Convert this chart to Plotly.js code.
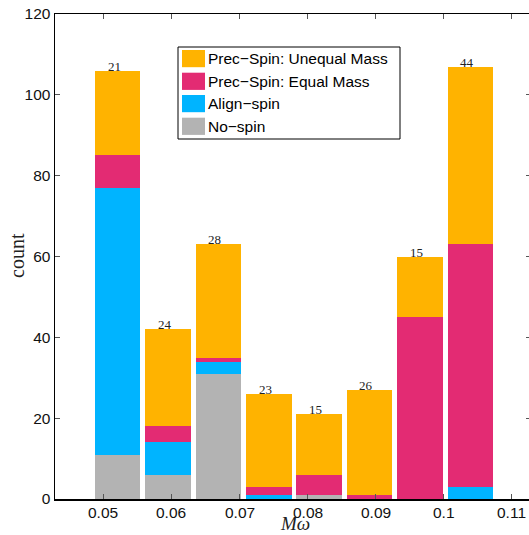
<!DOCTYPE html>
<html>
<head>
<meta charset="utf-8">
<script src="https://cdn.plot.ly/plotly-3.0.1.min.js"></script>
<style>
html, body { margin: 0; padding: 0; overflow: hidden; background: #fff; }
#chart { width: 533px; height: 535px; }
</style>
</head>
<body>
<div id="chart"></div>
<script>
// Bin centres (Mω)
const binCenters = [0.0521, 0.0595, 0.0669, 0.0743, 0.0817, 0.0891, 0.0965, 0.1039];
// Series counts (stacked bottom -> top)
const noSpin      = [11, 6, 31, 0, 1, 0, 0, 0];
const alignSpin   = [66, 8, 3, 1, 0, 0, 0, 3];
const equalMass   = [8, 4, 1, 2, 5, 1, 45, 60];
const unequalMass = [21, 24, 28, 23, 15, 26, 15, 44];
const seriesNames = ["No\u2212spin", "Align\u2212spin", "Prec\u2212Spin: Equal Mass", "Prec\u2212Spin: Unequal Mass"];
const seriesColors = ["#B3B3B3", "#00B4FF", "#E32B73", "#FFB300"];
const xTickVals = [0.05, 0.06, 0.07, 0.08, 0.09, 0.10, 0.11];
const xTickText = ["0.05", "0.06", "0.07", "0.08", "0.09", "0.1", "0.11"];
const yTickVals = [0, 20, 40, 60, 80, 100, 120];

const series = [noSpin, alignSpin, equalMass, unequalMass];
const barWidth = 0.0067;

const traces = series.map((vals, i) => ({
  type: 'bar',
  x: binCenters,
  y: vals,
  width: barWidth,
  name: seriesNames[i],
  marker: { color: seriesColors[i], line: { width: 0 } },
  showlegend: false,
  hoverinfo: 'skip'
}));

// Plot area in pixels
const L = 55, R = 531, T = 14, B = 499;
const px = x => (x - L) / (R - L);
const py = y => (B - y) / (B - T);

const annotations = [];
// Count labels on top of each stack (unequal-mass counts)
binCenters.forEach((x, i) => {
  const total = noSpin[i] + alignSpin[i] + equalMass[i] + unequalMass[i];
  annotations.push({
    x: x, y: total, xref: 'x', yref: 'y',
    text: String(unequalMass[i]),
    showarrow: false, xanchor: 'center', yanchor: 'bottom',
    xshift: -3.5, yshift: -5,
    font: { family: 'Liberation Serif, serif', size: 13, color: '#222' }
  });
});

// X tick labels (placed as text at each tick value)
xTickVals.forEach((v, i) => {
  annotations.push({
    x: v, xref: 'x', yref: 'paper', y: py(512.5),
    text: xTickText[i], showarrow: false,
    xanchor: 'center', yanchor: 'middle', borderpad: 0,
    font: { family: 'Liberation Sans, Arial, sans-serif', size: 15.5, color: '#111' }
  });
});

// Axis titles
annotations.push({
  xref: 'paper', yref: 'paper', x: px(17), y: py(256),
  text: 'count', textangle: -90, showarrow: false,
  xanchor: 'center', yanchor: 'middle',
  font: { family: 'Liberation Serif, serif', size: 20, color: '#222' }
});
annotations.push({
  xref: 'paper', yref: 'paper', x: px(295), y: py(534.5),
  text: '<i>M\u03c9</i>', showarrow: false,
  xanchor: 'center', yanchor: 'bottom', borderpad: 0,
  font: { family: 'Liberation Serif, serif', size: 19, color: '#222' }
});

// Manual legend (top to bottom: reverse stacking order)
const shapes = [];
shapes.push({
  type: 'rect', xref: 'paper', yref: 'paper',
  x0: px(178), x1: px(400), y0: py(47), y1: py(139),
  line: { color: '#000', width: 1 }, fillcolor: '#fff', layer: 'above'
});
const rowCenters = [58.6, 81.3, 103.6, 126.3];
for (let r = 0; r < 4; r++) {
  const si = 3 - r;
  const cy = rowCenters[r];
  shapes.push({
    type: 'rect', xref: 'paper', yref: 'paper',
    x0: px(182), x1: px(205), y0: py(cy - 8.6), y1: py(cy + 8.6),
    line: { width: 0 }, fillcolor: seriesColors[si], layer: 'above'
  });
  annotations.push({
    xref: 'paper', yref: 'paper', x: px(206), y: py(cy),
    text: seriesNames[si], showarrow: false,
    xanchor: 'left', yanchor: 'middle',
    font: { family: 'Liberation Sans, Arial, sans-serif', size: 15.5, color: '#000' }
  });
}

const layout = {
  width: 533, height: 535,
  margin: { l: L, r: 533 - R, t: T, b: 535 - B, pad: 0 },
  paper_bgcolor: '#fff', plot_bgcolor: '#fff',
  barmode: 'stack',
  bargap: 0,
  showlegend: false,
  font: { family: 'Liberation Sans, Arial, sans-serif', size: 15, color: '#222' },
  xaxis: {
    range: [0.0429, 0.1128],
    tickmode: 'array', tickvals: xTickVals, ticktext: xTickText,
    showticklabels: false,
    ticks: 'inside', ticklen: 5, tickwidth: 1, tickcolor: '#555',
    showline: true, linecolor: '#000', linewidth: 1.5, mirror: 'ticks',
    showgrid: false, zeroline: false
  },
  yaxis: {
    range: [0, 120],
    tickmode: 'array', tickvals: yTickVals,
    ticks: 'inside', ticklen: 5, tickwidth: 1, tickcolor: '#555',
    showline: true, linecolor: '#000', linewidth: 1.5, mirror: 'ticks',
    showgrid: false, zeroline: false,
    tickfont: { family: 'Liberation Sans, Arial, sans-serif', size: 15.5, color: '#111' }
  },
  annotations: annotations,
  shapes: shapes
};

Plotly.newPlot('chart', traces, layout, { staticPlot: true, displayModeBar: false });
</script>
</body>
</html>
